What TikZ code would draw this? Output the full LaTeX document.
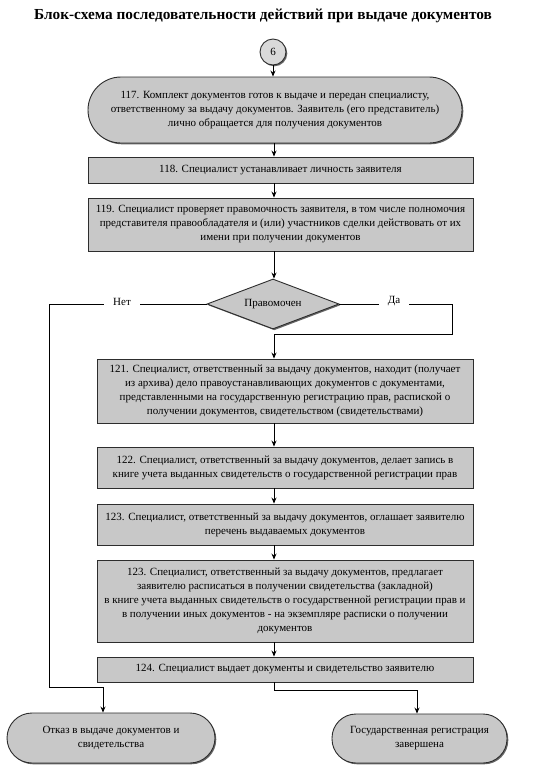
\documentclass[tikz,border=0pt]{standalone}
\usepackage{fontspec}
\setmainfont{Liberation Serif}
\usetikzlibrary{shapes.geometric,shadows,arrows.meta,calc}
\definecolor{boxgray}{RGB}{200,200,200}
\definecolor{edgegray}{RGB}{45,45,45}
\begin{document}
\begin{tikzpicture}[x=1pt,y=-1pt,
  txt/.style={font=\fontsize{11}{14}\selectfont, align=center, inner sep=0pt},
  shad/.style={drop shadow={shadow xshift=1.3pt, shadow yshift=-1.3pt, fill=black!60, opacity=1}},
  stepbox/.style={txt, shape=rectangle, draw=edgegray, line width=0.9pt, fill=boxgray, shad},
  term/.style={txt, shape=rectangle, draw=edgegray, line width=0.9pt, fill=boxgray, shad},
  decis/.style={txt, shape=diamond, aspect=2.6, draw=edgegray, line width=0.9pt, fill=boxgray, shad, inner sep=1pt},
  conn/.style={txt, shape=circle, draw=edgegray, line width=0.9pt, fill=boxgray!70, shad},
  arr/.style={-{Stealth[length=6pt,width=5pt]}, line width=0.8pt, draw=black},
  ln/.style={line width=0.8pt, draw=black},
  lbl/.style={txt, fill=white, inner xsep=9pt, inner ysep=2pt}
]
\useasboundingbox (0,0) rectangle (534,777);
\fill[white] (0,0) rectangle (534,777);

\node[font=\bfseries\fontsize{15.3}{18}\selectfont, inner sep=0pt] (title) at (263,16) {Блок-схема последовательности действий при выдаче документов};

\coordinate (axis) at (274,0);

\node[conn, minimum size=26pt] (c6) at (273,52) {6};

\node[term, minimum width=374pt, minimum height=66pt, rounded corners=33pt] (b117) at (275,110)
 {117. Комплект документов готов к выдаче и передан специалисту,\\
  ответственному за выдачу документов. Заявитель (его представитель)\\
  лично обращается для получения документов};

\node[stepbox, minimum width=385pt, minimum height=26pt] (b118) at (280.5,170)
 {118. Специалист устанавливает личность заявителя};

\node[stepbox, minimum width=385pt, minimum height=53pt] (b119) at (280.5,224.5)
 {119. Специалист проверяет правомочность заявителя, в том числе полномочия\\
  представителя правообладателя и (или) участников сделки действовать от их\\
  имени при получении документов};

\node[decis, minimum width=132pt, minimum height=50pt] (d) at (273,304) {Правомочен};

\node[stepbox, minimum width=376pt, minimum height=64pt] (b121) at (285,391)
 {121. Специалист, ответственный за выдачу документов, находит (получает\\
  из архива) дело правоустанавливающих документов с документами,\\
  представленными на государственную регистрацию прав, распиской о\\
  получении документов, свидетельством (свидетельствами)};

\node[stepbox, minimum width=376pt, minimum height=41pt] (b122) at (285,467.5)
 {122. Специалист, ответственный за выдачу документов, делает запись в\\
  книге учета выданных свидетельств о государственной регистрации прав};

\node[stepbox, minimum width=376pt, minimum height=41pt] (b123a) at (285,524.5)
 {123. Специалист, ответственный за выдачу документов, оглашает заявителю\\
  перечень выдаваемых документов};

\node[stepbox, minimum width=376pt, minimum height=82pt] (b123b) at (285,601)
 {123. Специалист, ответственный за выдачу документов, предлагает\\
  заявителю расписаться в получении свидетельства (закладной)\\
  в книге учета выданных свидетельств о государственной регистрации прав и\\
  в получении иных документов - на экземпляре расписки о получении\\
  документов};

\node[stepbox, minimum width=376pt, minimum height=25pt] (b124) at (285,669.5)
 {124. Специалист выдает документы и свидетельство заявителю};

\node[term, minimum width=208pt, minimum height=50pt, rounded corners=25pt] (eno) at (111,738)
 {Отказ в выдаче документов и\\ свидетельства};

\node[term, minimum width=175pt, minimum height=49pt, rounded corners=24pt] (eyes) at (419.5,738.5)
 {Государственная регистрация\\ завершена};

% vertical main arrows
\draw[arr] (c6.south) -- (b117.north -| c6);
\draw[arr] (b117.south -| axis) -- (b118.north -| axis);
\draw[arr] (b118.south -| axis) -- (b119.north -| axis);
\draw[arr] (b119.south -| axis) -- (d.north -| axis);
\draw[arr] (b121.south -| axis) -- (b122.north -| axis);
\draw[arr] (b122.south -| axis) -- (b123a.north -| axis);
\draw[arr] (b123a.south -| axis) -- (b123b.north -| axis);
\draw[arr] (b123b.south -| axis) -- (b124.north -| axis);

% decision branches
\coordinate (nleft) at (49,303);
\coordinate (nbot) at (49,687);
\coordinate (narr) at (103,687);
\coordinate (yright) at (452,303);
\coordinate (ybot) at (452,334);
\draw[ln] (d.west) -- (d.west -| nleft) -- (nbot) -- (narr);
\draw[arr] (narr) -- (narr |- eno.north);
\draw[ln] (d.east) -- (d.east -| yright) -- (ybot) -- (ybot -| axis);
\draw[arr] (ybot -| axis) -- (b121.north -| axis);
\node[lbl] (lno) at (122,302) {Нет};
\node[lbl] (lyes) at (394,301) {Да};

% 124 to end
\coordinate (ebot) at (274,690);
\coordinate (earr) at (417,690);
\draw[ln] (b124.south -| axis) -- (ebot) -- (earr);
\draw[arr] (earr) -- (earr |- eyes.north);
\end{tikzpicture}
\end{document}
